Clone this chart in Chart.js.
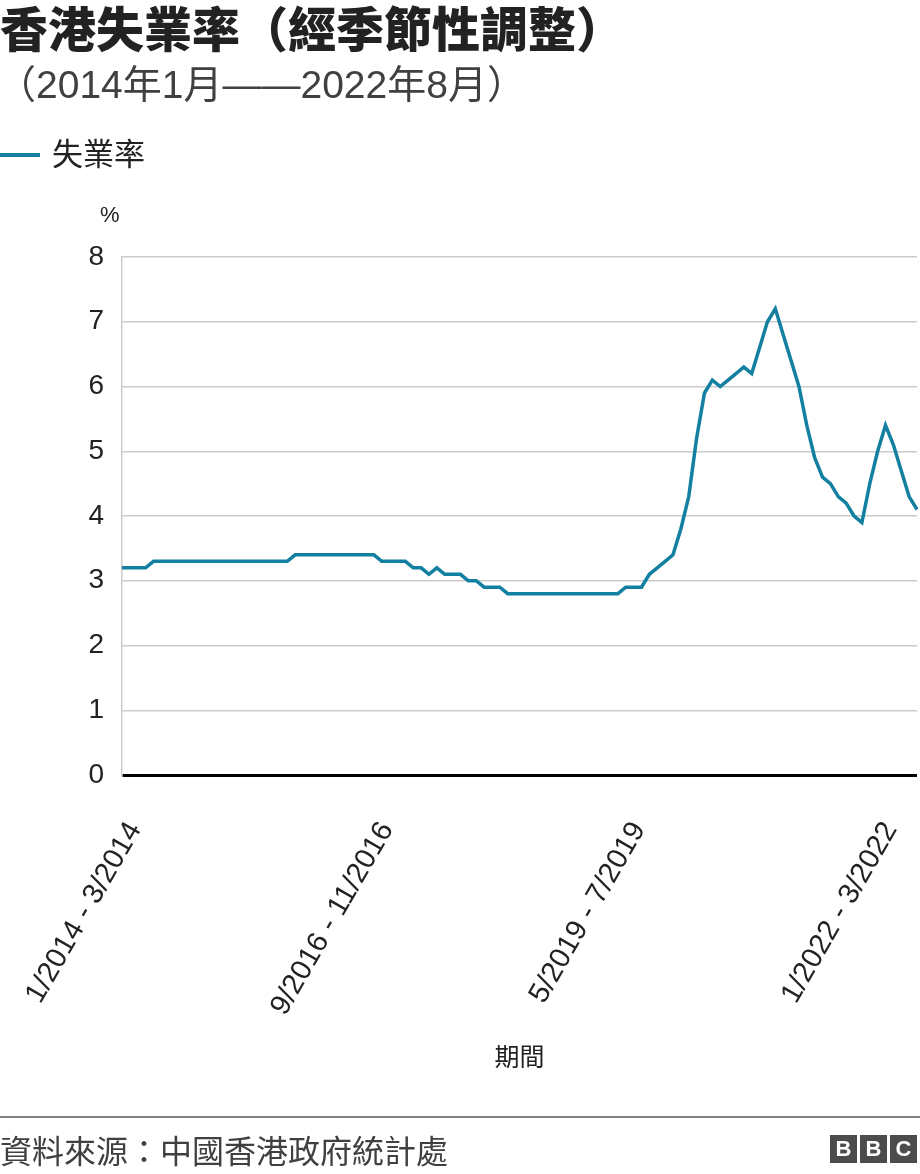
<!DOCTYPE html>
<html>
<head>
<meta charset="utf-8">
<script src="https://cdn.jsdelivr.net/npm/chart.js@4.4.0/dist/chart.umd.min.js"></script>
<style>
  body { margin: 0; width: 920px; height: 1174px; position: relative; background: #fff; overflow: hidden;
         font-family: "Liberation Sans", "Noto Sans CJK TC", sans-serif; color: #222; }
  .txt { position: absolute; white-space: nowrap; z-index: 2; }
  #title { left: 0; top: -9px; font-size: 48px; font-weight: 900; color: #222; }
  #subtitle { left: -3px; top: 53px; font-size: 39px; color: #404040; }
  #legend { left: 0; top: 129px; font-size: 31px; color: #222; }
  #legend span { display: inline-block; width: 40px; height: 4px; background: #1380A1; vertical-align: middle; margin-right: 12px; margin-top: -4px; }
  #unit { left: 100px; top: 202px; font-size: 22px; }
  #rule { position: absolute; left: 0; top: 1116px; width: 920px; height: 2px; background: #7f7f7f; }
  #source { left: 0; top: 1126px; font-size: 32px; color: #404040; }
  #bbc { position: absolute; right: 3px; top: 1135px; display: flex; gap: 3px; }
  #bbc div { width: 27px; height: 28px; background: #4c4c4c; color: #fff; font: bold 22px "Liberation Sans", sans-serif;
             text-align: center; line-height: 28px; }
  canvas { position: absolute; left: 0; top: 0; }
</style>
</head>
<body>
<div class="txt" id="title">香港失業率（經季節性調整）</div>
<div class="txt" id="subtitle">（2014年1月——2022年8月）</div>
<div class="txt" id="legend"><span></span>失業率</div>
<div class="txt" id="unit">%</div>
<canvas id="chart" width="920" height="1174"></canvas>
<div id="rule"></div>
<div class="txt" id="source">資料來源：中國香港政府統計處</div>
<div id="bbc"><div>B</div><div>B</div><div>C</div></div>
<script>
// rolling three-month periods, Jan-Mar 2014 .. Jun-Aug 2022
var periods = [];
for (var i = 0; i < 102; i++) {
  var s = new Date(2014, i, 1), e = new Date(2014, i + 2, 1);
  periods.push((s.getMonth() + 1) + '/' + s.getFullYear() + ' - ' + (e.getMonth() + 1) + '/' + e.getFullYear());
}

var tickLabels = ['1/2014 - 3/2014', '9/2016 - 11/2016', '5/2019 - 7/2019', '1/2022 - 3/2022'];

// unemployment rate (%)
var rate = [
  3.2, 3.2, 3.2, 3.2, 3.3, 3.3, 3.3, 3.3, 3.3, 3.3, 3.3, 3.3,
  3.3, 3.3, 3.3, 3.3, 3.3, 3.3, 3.3, 3.3, 3.3, 3.3, 3.4, 3.4,
  3.4, 3.4, 3.4, 3.4, 3.4, 3.4, 3.4, 3.4, 3.4, 3.3, 3.3, 3.3,
  3.3, 3.2, 3.2, 3.1, 3.2, 3.1, 3.1, 3.1, 3.0, 3.0, 2.9, 2.9,
  2.9, 2.8, 2.8, 2.8, 2.8, 2.8, 2.8, 2.8, 2.8, 2.8, 2.8, 2.8,
  2.8, 2.8, 2.8, 2.8, 2.9, 2.9, 2.9, 3.1, 3.2, 3.3, 3.4, 3.8,
  4.3, 5.2, 5.9, 6.1, 6.0, 6.1, 6.2, 6.3, 6.2, 6.6, 7.0, 7.2,
  6.8, 6.4, 6.0, 5.4, 4.9, 4.6, 4.5, 4.3, 4.2, 4.0, 3.9, 4.5,
  5.0, 5.4, 5.1, 4.7, 4.3, 4.1
];

var yTicks = [0, 1, 2, 3, 4, 5, 6, 7, 8];

Chart.defaults.font.family = '"Liberation Sans", "Noto Sans CJK TC", sans-serif';
Chart.defaults.color = '#222';

var ctx = document.getElementById('chart').getContext('2d');
var chart = new Chart(ctx, {
  type: 'line',
  data: {
    labels: periods,
    datasets: [{
      label: '失業率',
      data: rate,
      borderColor: '#1380A1',
      borderWidth: 3.5,
      pointRadius: 0,
      tension: 0,
      fill: false
    }]
  },
  options: {
    responsive: false,
    animation: false,
    devicePixelRatio: 1,
    layout: { padding: { top: 257, right: 3, bottom: 100, left: 0 } },
    plugins: { legend: { display: false }, tooltip: { enabled: false } },
    scales: {
      x: {
        grid: { display: false },
        border: { display: false },
        ticks: {
          autoSkip: false,
          minRotation: 60,
          maxRotation: 60,
          labelOffset: 13,
          padding: 33,
          font: { size: 29 },
          color: '#222',
          callback: function(value, index) {
            var lab = periods[index];
            return tickLabels.indexOf(lab) !== -1 ? lab : '';
          }
        },
        title: { display: true, text: '期間', font: { size: 25 }, color: '#222', padding: 0 },
        afterFit: function(scale) {
          scale.height = 299;
          scale.paddingLeft = 0;
          scale.paddingRight = 0;
        }
      },
      y: {
        min: 0,
        max: 8,
        afterBuildTicks: function(scale) {
          scale.ticks = yTicks.map(function(v) { return { value: v }; });
        },
        grid: {
          drawTicks: false,
          color: function(c) { return c.tick && c.tick.value === 0 ? '#000' : '#cbcbcb'; },
          lineWidth: function(c) { return c.tick && c.tick.value === 0 ? 3 : 1.5; }
        },
        border: { display: true, color: '#cbcbcb', width: 1.5 },
        ticks: { font: { size: 28 }, color: '#222', padding: 18 },
        afterFit: function(scale) { scale.width = 122; }
      }
    }
  }
});
</script>
</body>
</html>
